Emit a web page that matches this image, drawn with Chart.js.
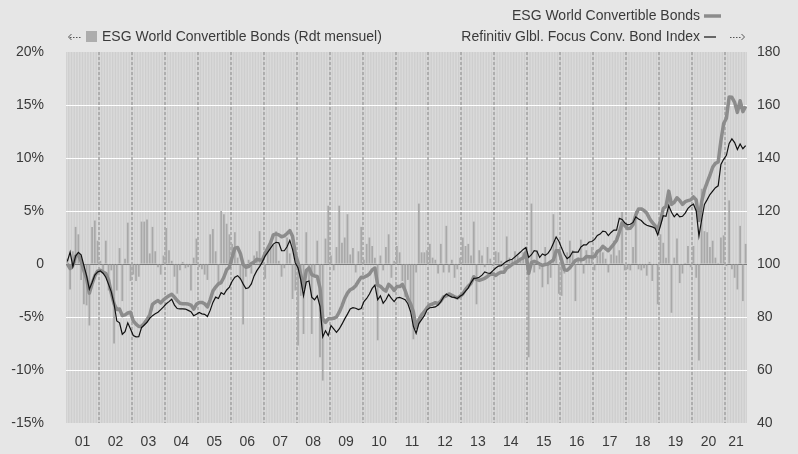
<!DOCTYPE html>
<html>
<head>
<meta charset="utf-8">
<script src="https://cdn.jsdelivr.net/npm/chart.js@4.4.1/dist/chart.umd.min.js"></script>
<style>
  html, body { margin:0; padding:0; background:#e6e6e6; }
  #wrap { width:798px; height:454px; }
</style>
</head>
<body>
<div id="wrap"><canvas id="chart" width="798" height="454"></canvas></div>
<script>
// ─────────────────────────────────────────────────────────────────────────────
// DATA — monthly, Jan 2001 … Aug 2021
// ─────────────────────────────────────────────────────────────────────────────

const yearLabels = ['01','02','03','04','05','06','07','08','09','10','11',
                    '12','13','14','15','16','17','18','19','20','21'];

// ESG World Convertible Bonds, monthly return (%) — left axis
const monthlyReturn = [
   0.5, -2.4,  1.2,  3.5,  2.8, -1.5, -3.8, -3.9, -5.8,  3.5,  4.1,  2.2,   // 2001
   0.3, -0.8,  2.2, -2.5, -0.6, -7.5, -2.5,  1.5, -3.5,  0.5,  3.9, -1.6,   // 2002
  -1.0, -1.6, -1.2,  4.0,  4.0,  4.2,  1.0,  3.5,  1.2, -0.3, -1.0,  0.8,   // 2003
   3.4,  1.3,  0.3, -1.2, -2.8, -0.6,  0.2, -0.4, -0.3, -2.5,  0.6,  2.4,   // 2004
  -0.3, -0.5, -1.0, -1.5,  2.8,  3.3,  1.2, -1.9,  5.0,  4.7,  3.8,  2.8,   // 2005
   1.9,  3.0,  0.6, -1.5, -5.7, -1.2,  0.4, -0.9,  0.8,  1.2,  3.1,  0.5,   // 2006
  -1.4,  1.5,  2.2,  1.8,  3.1,  0.3, -1.2, -0.4,  2.5,  1.0, -3.3, -2.5,   // 2007
  -7.7, -3.0, -6.6,  3.0, -1.6, -6.6, -1.0,  2.2, -8.8,-11.0,  2.4,  5.5,   // 2008
   0.8, -0.6,  1.6,  5.5,  2.0,  2.5,  4.7,  0.9,  1.5, -0.8,  1.2,  3.5,   // 2009
   0.4,  1.9,  2.5,  1.7,  0.6, -7.2,  0.8, -0.6,  1.6,  2.8, -1.3,  0.3,   // 2010
   1.7,  1.1, -1.6, -3.1, -1.5, -3.8, -7.1, -0.8,  5.7,  1.1,  1.1,  1.3,   // 2011
   1.9,  0.6,  0.4, -0.9,  1.9, -0.8,  3.6, -0.8,  0.4, -1.3, -0.5,  0.6,   // 2012
   2.5,  1.7,  1.9,  0.8,  4.0, -3.8,  1.3,  0.8, -0.3,  1.6,  0.5, -0.2,   // 2013
   1.2,  1.1,  0.3, -0.5,  2.6,  0.6,  0.4,  1.2,  0.8,  0.3,  1.1,  1.6,   // 2014
  -8.8,  5.7, -0.8,  1.3, -0.5, -2.2,  1.6, -1.9, -1.3,  4.7,  2.2, -2.8,   // 2015
  -3.0, -0.9,  1.1,  2.2,  1.3, -3.5,  0.6,  2.3, -0.9,  1.3,  0.6,  1.6,   // 2016
  -0.6,  0.8,  1.3,  1.1,  0.5, -0.8,  0.9,  2.2,  0.8,  1.3,  4.9, -0.6,   // 2017
  -0.5, -0.6,  1.6,  5.0, -0.5, -0.6, -0.4, -1.1,  0.2, -1.6, -0.1, -3.8,   // 2018
   2.8,  2.0,  0.6,  6.9, -4.6,  0.6,  2.4, -1.8, -0.9,  0.1,  1.7, -0.3,   // 2019
   1.7, -1.3, -9.1,  7.1,  3.1,  3.0,  1.6,  2.2,  0.6,  0.1,  2.5,  2.7,   // 2020
  -0.2,  6.0, -0.5, -1.3, -2.4,  3.6, -3.5,  1.9                            // 2021
];

// ESG World Convertible Bonds, index (base 100) — right axis
const esgIndex = [
  100.0,  98.3,  99.5, 103.0, 103.5, 101.0,  97.5,  94.5,  89.0,  92.5,  95.5,  97.3,
   97.6,  97.0,  96.4,  94.0,  89.0,  85.0,  82.8,  83.0,  80.5,  80.8,  81.5,  81.8,
   78.5,  77.3,  76.4,  76.5,  77.6,  79.0,  80.8,  84.8,  85.6,  86.2,  85.3,  86.5,
   87.3,  88.0,  88.6,  87.5,  86.2,  85.2,  85.0,  85.0,  84.9,  84.5,  83.0,  84.8,
   85.5,  85.5,  85.0,  83.8,  86.5,  89.8,  91.3,  92.5,  93.0,  95.0,  97.8,  98.8,
  102.5, 106.0, 106.2, 104.0,  99.8,  98.8,  99.0, 100.2, 100.7, 101.8, 101.5, 101.5,
  104.0, 106.0, 108.0, 111.0, 111.4, 111.0, 110.3, 110.6, 111.5, 112.6, 110.5, 104.0,
  100.5,  96.0,  91.0,  97.5,  98.5,  96.0,  95.5,  95.3,  91.0,  79.3,  78.0,  79.3,
   79.3,  79.5,  80.0,  81.8,  84.2,  87.0,  89.0,  90.3,  90.8,  91.8,  93.5,  95.0,
   95.0,  95.5,  96.2,  97.8,  98.5,  92.0,  91.6,  90.5,  89.8,  92.3,  91.4,  90.0,
   91.5,  91.5,  92.3,  90.0,  87.0,  85.0,  82.0,  76.0,  79.0,  80.8,  82.0,  83.5,
   84.6,  84.9,  85.4,  85.0,  86.0,  87.6,  88.0,  88.7,  88.2,  87.6,  87.2,  87.8,
   88.7,  90.4,  91.6,  92.7,  95.2,  94.2,  93.8,  94.2,  94.6,  95.3,  96.1,  96.2,
   95.7,  96.5,  96.9,  96.9,  98.5,  99.1,  99.9, 100.4, 101.0, 101.8, 102.3, 104.4,
   96.5, 100.5, 101.0, 100.6, 100.0,  99.5,  99.8, 100.0, 100.8, 101.5, 105.0, 105.0,
  101.3,  97.8,  97.6,  98.6, 100.0, 101.3, 101.8, 101.6, 101.8, 102.8, 102.7, 102.6,
  102.8, 104.7, 105.3, 106.7, 105.8, 105.0, 106.3, 107.5, 109.0, 112.0, 115.5, 114.5,
  113.4, 113.5, 114.8, 118.5, 120.8, 120.8, 120.2, 119.2, 117.2, 115.7, 114.5, 112.8,
  116.5, 120.9, 121.8, 127.5, 122.5, 123.3, 125.0, 124.0, 122.5, 123.5, 123.9, 124.2,
  125.3, 124.2, 116.4, 123.5, 128.0, 130.8, 133.5, 136.5, 138.0, 138.5, 146.5, 153.0,
  155.0, 163.0, 162.9, 161.0, 157.2, 161.6, 157.5, 159.5
];

// Refinitiv Global Focus Convertible Bond Index (base 100) — right axis
const refinitivIndex = [
  101.0, 104.5,  99.0, 103.0, 104.4, 103.5,  99.5,  95.5,  90.5,  93.0,  95.8,  97.0,
   97.4,  96.5,  95.0,  92.3,  89.5,  85.0,  78.5,  77.8,  73.5,  74.5,  77.8,  75.5,
   73.0,  72.5,  72.6,  76.0,  77.0,  78.0,  79.5,  80.5,  81.2,  81.8,  82.8,  83.8,
   85.0,  85.8,  86.7,  84.5,  83.2,  83.1,  83.1,  83.0,  82.5,  82.0,  80.5,  81.0,
   81.7,  81.2,  81.0,  80.2,  82.5,  85.5,  87.5,  87.0,  89.2,  88.5,  90.2,  91.3,
   93.5,  95.0,  95.6,  94.5,  92.5,  90.7,  91.0,  92.5,  95.5,  97.5,  99.0, 100.8,
  103.0, 104.5, 106.0, 107.5, 108.2, 108.0, 105.0, 105.0, 106.5, 108.9, 105.5, 100.5,
   98.5,  94.0,  88.0,  93.2,  93.6,  87.5,  86.5,  88.0,  84.0,  72.5,  74.8,  73.0,
   76.8,  75.5,  74.2,  75.5,  77.3,  79.3,  81.1,  83.0,  83.5,  83.3,  82.8,  83.2,
   85.8,  87.0,  88.7,  90.8,  92.0,  86.5,  88.0,  85.2,  86.5,  88.5,  87.0,  85.8,
   87.2,  87.4,  87.0,  86.5,  85.0,  82.0,  76.5,  73.8,  77.5,  79.0,  80.5,  82.7,
   83.5,  83.6,  83.8,  84.5,  85.8,  87.5,  88.7,  88.0,  87.5,  87.4,  87.0,  87.8,
   88.5,  89.8,  91.0,  93.0,  94.6,  94.7,  95.0,  95.8,  97.0,  96.6,  96.5,  97.5,
   98.5,  99.2,  99.4, 100.3, 101.0, 101.5, 101.8, 102.7, 103.6, 104.5, 105.5, 106.2,
  102.5, 103.5, 105.0, 104.8, 102.5, 103.8, 103.3, 104.0, 105.5, 107.8, 110.2, 108.6,
  106.0, 103.6, 102.0, 102.8, 104.6, 104.5, 104.5, 106.4, 107.2, 107.2, 108.3, 108.5,
  109.3, 110.8, 111.3, 112.4, 112.2, 110.7, 111.9, 112.8, 112.8, 117.2, 116.8, 115.5,
  114.8, 115.0, 115.7, 117.8, 117.0, 116.4, 115.3, 114.6, 114.3, 114.0, 113.5, 111.0,
  114.5, 118.2, 118.0, 122.0, 119.5, 117.8, 119.0, 117.8, 118.0, 119.2, 121.0, 122.0,
  122.6, 120.0, 110.5, 116.8, 122.5, 124.3, 126.2, 127.5, 128.8, 129.5, 137.6, 139.5,
  141.0, 145.5, 147.2, 145.8, 143.2, 145.3, 143.5, 144.7
];

// ─────────────────────────────────────────────────────────────────────────────
// STYLE
// ─────────────────────────────────────────────────────────────────────────────

const FONT      = { family: '"Liberation Sans", Arial, Helvetica, sans-serif', size: 14 };
const TEXT      = '#3a3a3a';
const PAGE_BG   = '#e6e6e6';
const STRIPE_D  = '#cecece';
const STRIPE_L  = '#dadada';
const BAR_COL   = '#a9a9a9';
const ESG_COL   = '#8c8c8c';
const IDX_COL   = '#111111';

const nMonths = monthlyReturn.length;
const pts = arr => arr.map((v, i) => ({ x: i, y: v }));

// year label ticks sit in the middle of each year (last year is partial)
function yearTicks() {
  const t = [];
  for (let k = 0; k < yearLabels.length; k++) {
    const first = k * 12;
    const last  = Math.min(first + 11, nMonths - 1);
    t.push({ value: (first + last) / 2 });
  }
  return t;
}

// ─────────────────────────────────────────────────────────────────────────────
// PLUGINS — striped plot background, year separators, legends
// ─────────────────────────────────────────────────────────────────────────────

const backdrop = {
  id: 'backdrop',
  beforeDraw(chart) {
    const { ctx, chartArea: a, scales: { x } } = chart;
    ctx.save();
    ctx.fillStyle = PAGE_BG;
    ctx.fillRect(0, 0, chart.width, chart.height);
    ctx.fillStyle = STRIPE_D;
    ctx.fillRect(a.left, a.top, a.right - a.left, a.bottom - a.top);
    ctx.fillStyle = STRIPE_L;
    for (let i = 0; i < nMonths; i++) {
      const cx = x.getPixelForValue(i);
      ctx.fillRect(cx - 0.7, a.top, 1.4, a.bottom - a.top);
    }
    ctx.restore();
  },
  beforeDatasetsDraw(chart) {
    const { ctx, chartArea: a, scales: { x } } = chart;
    ctx.save();
    ctx.strokeStyle = '#a2a2a2';
    ctx.lineWidth = 1.5;
    ctx.setLineDash([3, 2]);
    for (let k = 1; k < yearLabels.length; k++) {
      const px = Math.round(x.getPixelForValue(k * 12 - 0.5));
      ctx.beginPath();
      ctx.moveTo(px, a.top);
      ctx.lineTo(px, a.bottom);
      ctx.stroke();
    }
    ctx.restore();
  },
  afterDraw(chart) {
    const ctx = chart.ctx;
    ctx.save();
    ctx.font = `${FONT.size}px ${FONT.family}`;
    ctx.fillStyle = TEXT;
    ctx.textBaseline = 'middle';

    // left legend: dotted arrow + square + label
    ctx.strokeStyle = '#555';
    ctx.lineWidth = 1;
    ctx.beginPath();
    ctx.moveTo(71.5, 34); ctx.lineTo(68.5, 37); ctx.lineTo(71.5, 40);
    ctx.stroke();
    ctx.setLineDash([1.5, 1.5]);
    ctx.beginPath(); ctx.moveTo(70, 37.5); ctx.lineTo(81, 37.5); ctx.stroke();
    ctx.setLineDash([]);
    ctx.fillStyle = '#adadad';
    ctx.fillRect(86, 31, 11, 11);
    ctx.fillStyle = TEXT;
    ctx.textAlign = 'left';
    ctx.fillText('ESG World Convertible Bonds (Rdt mensuel)', 102, 37);

    // right legend: labels + line samples + dotted arrow
    ctx.textAlign = 'right';
    ctx.fillText('ESG World Convertible Bonds', 700, 16);
    ctx.fillText('Refinitiv Glbl. Focus Conv. Bond Index', 700, 37);
    ctx.strokeStyle = ESG_COL;
    ctx.lineWidth = 3.5;
    ctx.beginPath(); ctx.moveTo(704, 16); ctx.lineTo(721, 16); ctx.stroke();
    ctx.strokeStyle = IDX_COL;
    ctx.lineWidth = 1.2;
    ctx.beginPath(); ctx.moveTo(704, 37); ctx.lineTo(716, 37); ctx.stroke();
    ctx.strokeStyle = '#555';
    ctx.lineWidth = 1;
    ctx.setLineDash([1.5, 1.5]);
    ctx.beginPath(); ctx.moveTo(730, 37.5); ctx.lineTo(742, 37.5); ctx.stroke();
    ctx.setLineDash([]);
    ctx.beginPath();
    ctx.moveTo(741.5, 34); ctx.lineTo(744.5, 37); ctx.lineTo(741.5, 40);
    ctx.stroke();
    ctx.restore();
  }
};

// ─────────────────────────────────────────────────────────────────────────────
// CHART
// ─────────────────────────────────────────────────────────────────────────────

new Chart(document.getElementById('chart'), {
  data: {
    datasets: [
      { type:'line', label:'Refinitiv Glbl. Focus Conv. Bond Index', data: pts(refinitivIndex),
        yAxisID:'y2', borderColor: IDX_COL, borderWidth:1.2, pointRadius:0, tension:0, order:0 },
      { type:'line', label:'ESG World Convertible Bonds', data: pts(esgIndex),
        yAxisID:'y2', borderColor: ESG_COL, borderWidth:3.5, pointRadius:0, tension:0,
        borderJoinStyle:'round', order:1 },
      { type:'bar', label:'ESG World Convertible Bonds (Rdt mensuel)', data: pts(monthlyReturn),
        yAxisID:'y', backgroundColor: BAR_COL, barPercentage:0.65, categoryPercentage:1, order:2 }
    ]
  },
  options: {
    responsive:false,
    animation:false,
    devicePixelRatio:1,
    layout: { padding: { top:52, left:0, right:0, bottom:0 } },
    plugins: { legend:{ display:false }, tooltip:{ enabled:false } },
    scales: {
      x: {
        type:'linear', min:-0.5, max:nMonths - 0.5, offset:false,
        grid:{ display:false, drawTicks:false, offset:false }, border:{ display:false },
        afterBuildTicks(axis) { axis.ticks = yearTicks(); },
        afterFit(s) { s.height = 31; },
        ticks:{ autoSkip:false, maxRotation:0, padding:11, font:FONT, color:TEXT,
          callback: v => yearLabels[Math.floor(v / 12)] }
      },
      y: {
        position:'left', min:-15, max:20,
        afterFit(s) { s.width = 66; },
        border:{ display:false },
        grid:{ drawTicks:false, lineWidth:1,
          color: c => c.tick.value === 0 ? '#7c7c7c'
                    : (c.tick.value === 20 || c.tick.value === -15) ? 'rgba(0,0,0,0)' : '#ffffff' },
        ticks:{ stepSize:5, padding:22, font:FONT, color:TEXT,
          callback: v => v === 0 ? '0' : v + '%' }
      },
      y2: {
        position:'right', min:40, max:180,
        afterFit(s) { s.width = 51; },
        border:{ display:false },
        grid:{ display:false, drawTicks:false },
        ticks:{ stepSize:20, padding:10, font:FONT, color:TEXT }
      }
    }
  },
  plugins: [backdrop]
});
</script>
</body>
</html>
